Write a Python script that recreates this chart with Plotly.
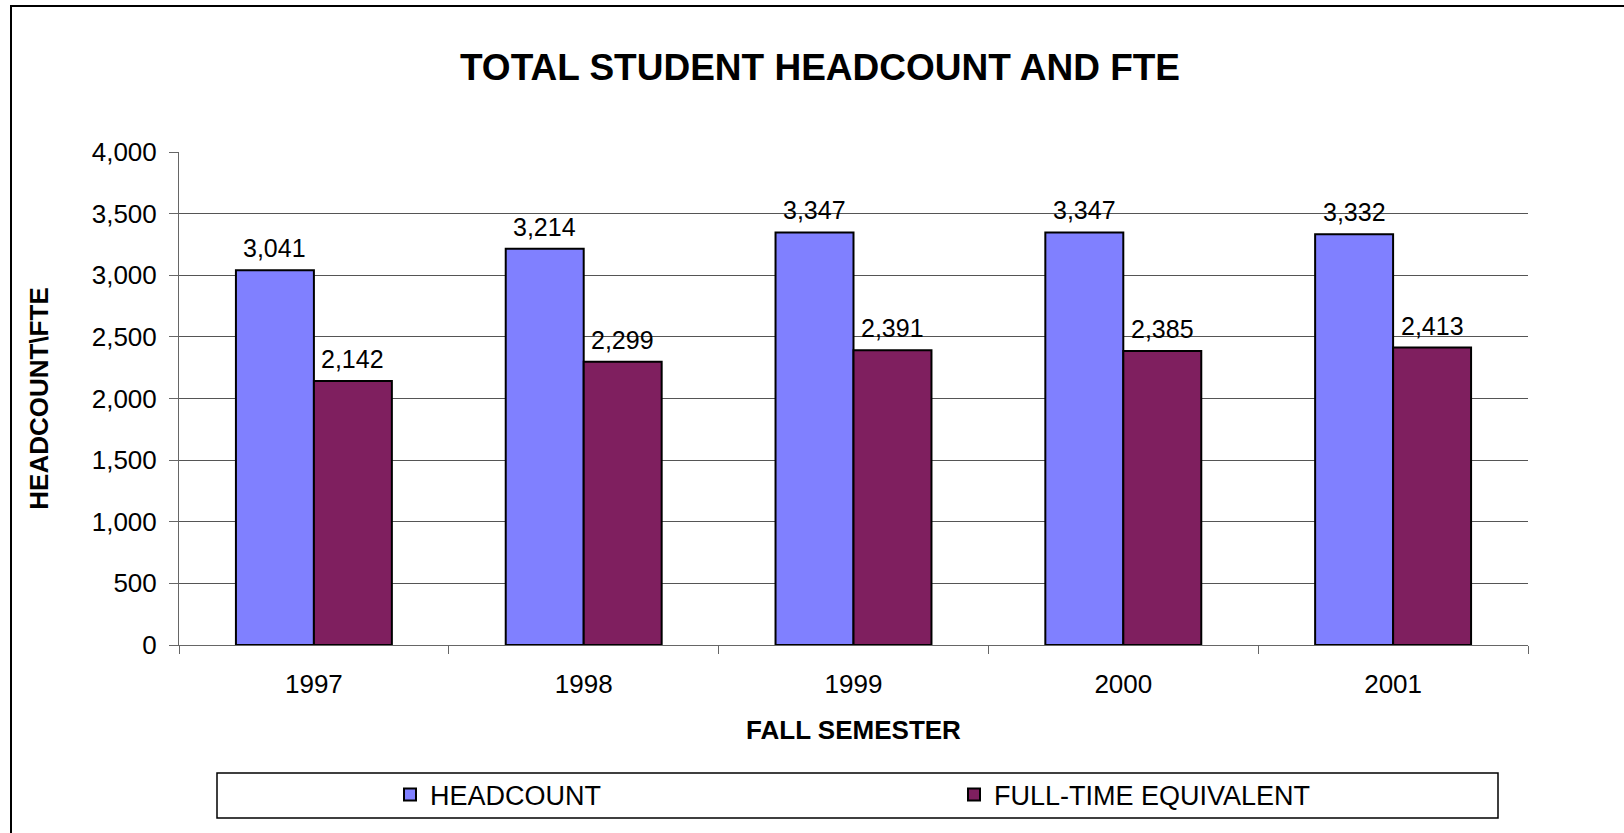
import plotly.graph_objects as go

# data
years = ["1997", "1998", "1999", "2000", "2001"]
headcount = [3041, 3214, 3347, 3347, 3332]
fte = [2142, 2299, 2391, 2385, 2413]

W, H = 1624, 833
L, R, T, B = 179, 96, 152, 188
pw, ph = W - L - R, H - T - B
bargap = 0.422
FONT = "Liberation Sans, Arial, sans-serif"


def px_x(p):
    return (p - L) / pw


def px_y(p):
    return (H - B - p) / ph


fig = go.Figure()
fig.add_trace(go.Bar(x=years, y=headcount, name="HEADCOUNT",
                     marker=dict(color="#8080FF", line=dict(color="black", width=2))))
fig.add_trace(go.Bar(x=years, y=fte, name="FULL-TIME EQUIVALENT",
                     marker=dict(color="#7F1F5F", line=dict(color="black", width=2))))

# value labels above bars
off = (1 - bargap) / 4
annos = []
for i, (h, f) in enumerate(zip(headcount, fte)):
    for xv, v in ((i - off, h), (i + off, f)):
        annos.append(dict(x=xv, y=v, xref="x", yref="y", text=f"{v:,}",
                          showarrow=False, yanchor="bottom", yshift=6,
                          font=dict(size=25, color="black", family=FONT)))

shapes = [
    # outer chart border
    dict(type="rect", xref="paper", yref="paper",
         x0=px_x(11), x1=px_x(1660), y0=px_y(6), y1=px_y(860),
         line=dict(color="black", width=2), layer="below"),
    # legend box
    dict(type="rect", xref="paper", yref="paper",
         x0=px_x(217), x1=px_x(1498), y0=px_y(773), y1=px_y(818),
         line=dict(color="black", width=1.5), layer="below"),
]

fig.update_layout(
    width=W, height=H,
    margin=dict(l=L, r=R, t=T, b=B, autoexpand=False),
    paper_bgcolor="white", plot_bgcolor="white",
    barmode="group", bargap=bargap, bargroupgap=0,
    font=dict(family=FONT, color="black", size=26),
    title=dict(text="<b>TOTAL STUDENT HEADCOUNT AND FTE</b>",
               x=820 / W, xref="container", xanchor="center",
               y=1 - 67 / H, yref="container", yanchor="middle",
               font=dict(size=37, color="black", family=FONT)),
    xaxis=dict(type="category", showline=True, linecolor="#666", linewidth=1,
               ticks="outside", tickson="boundaries", ticklen=8, tickcolor="#666",
               ticklabelstandoff=16, tickfont=dict(size=26),
               title=dict(text="<b>FALL SEMESTER</b>", standoff=22,
                          font=dict(size=26))),
    yaxis=dict(range=[0, 4000], dtick=500, tickformat=",", showgrid=True,
               gridcolor="#555", gridwidth=1, showline=True, linecolor="#666",
               ticks="outside", ticklen=9, tickcolor="#666", zeroline=False,
               ticklabelstandoff=7, tickfont=dict(size=26),
               title=dict(text="<b>HEADCOUNT\\FTE</b>", standoff=35,
                          font=dict(size=26))),
    showlegend=True,
    legend=dict(orientation="h", x=px_x(390), xanchor="left",
                y=px_y(795), yanchor="middle", bgcolor="rgba(0,0,0,0)",
                entrywidth=519, entrywidthmode="pixels", traceorder="normal",
                font=dict(size=27, color="black", family=FONT)),
    annotations=annos,
    shapes=shapes,
)

# the page body has a default 8px margin; drop it so the chart sits at 0,0
fig.write_html("out.html", config={"displayModeBar": False},
               post_script="document.body.style.margin='0';")
